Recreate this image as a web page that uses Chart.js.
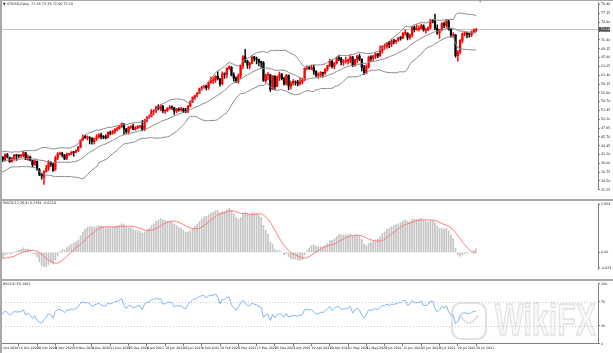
<!DOCTYPE html>
<html>
<head>
<meta charset="utf-8">
<script src="https://cdn.jsdelivr.net/npm/chart.js@4.4.0/dist/chart.umd.min.js"></script>
<style>
  html, body { margin: 0; padding: 0; background: #fff; }
  #wrap { position: relative; width: 613px; height: 353px; background: #fff; overflow: hidden; }
  canvas { position: absolute; left: 0; }
  .line { position: absolute; background: #a8a8a8; }
</style>
</head>
<body>
<div id="wrap">
  <canvas id="main" width="613" height="199" style="top:0;width:613px;height:199px"></canvas>
  <canvas id="macd" width="613" height="78" style="top:201px;width:613px;height:78px"></canvas>
  <canvas id="rsi" width="613" height="72" style="top:281px;width:613px;height:72px"></canvas>
  <div class="line" style="left:0;top:0;width:613px;height:1px"></div>
  <div class="line" style="left:0;top:0;width:2px;height:353px"></div>
  <div class="line" style="left:0;top:199px;width:613px;height:2px"></div>
  <div class="line" style="left:0;top:279px;width:613px;height:2px"></div>
</div>
<script>
// closes before the first visible bar, only used to warm up the indicators
const warmupClose = [
  41.60, 41.04, 41.27, 39.92, 40.27, 41.01, 41.70, 42.19, 41.95, 41.22,
  41.94, 41.61, 42.67, 42.24, 42.01, 42.89, 42.89, 42.93, 42.82, 42.34,
  42.62, 43.35, 43.39, 43.04, 42.97, 42.61, 42.76, 41.51, 41.37, 39.77,
  39.30, 36.76, 38.05, 37.30, 37.33, 37.26, 38.28, 40.16, 40.97, 41.11,
  39.31, 39.80, 39.93, 40.31, 40.25, 40.60, 39.29, 40.22, 38.72, 37.05, 39.22
];

// daily bars, 6 Oct 2020 .. 30 Jul 2021
const open = [
  39.25,40.60,39.90,41.20,40.40,39.45,40.25,41.00,40.95,40.85,41.00,41.65,40.00,40.60,39.70,38.55,39.50,37.40,36.20,
  35.40,36.85,37.70,39.10,38.75,37.40,40.30,41.40,41.45,41.10,40.20,41.30,41.45,41.80,41.75,42.20,43.10,44.90,45.70,45.50,45.50,
  45.30,44.50,45.30,45.65,46.25,45.75,45.60,45.55,46.80,46.60,47.00,47.60,47.85,48.35,49.00,47.70,47.00,48.10,48.30,47.65,48.00,48.40,
  48.45,47.60,49.90,50.60,50.85,52.20,52.25,53.20,52.90,53.55,52.30,52.40,52.95,53.30,53.10,52.25,52.75,52.60,52.85,52.30,
  52.20,53.55,54.75,55.70,56.25,56.85,58.00,58.35,58.70,58.25,59.50,60.05,60.05,61.15,60.50,59.25,61.70,61.65,63.20,63.50,
  61.50,60.60,59.75,61.25,63.80,66.10,65.00,64.00,64.45,66.00,65.60,65.40,64.80,64.55,60.00,61.40,61.50,57.80,61.15,58.55,60.95,61.55,60.50,
  59.15,61.40,58.65,59.35,59.75,59.60,59.30,59.70,60.20,63.15,63.45,63.10,63.40,62.45,61.35,61.40,62.15,61.90,62.95,63.85,65.00,
  63.55,64.50,65.70,65.60,64.70,64.90,64.90,65.30,66.05,63.85,65.35,66.25,65.45,63.35,62.05,63.55,66.05,65.75,66.20,66.85,
  66.40,67.70,68.80,68.80,69.60,69.25,70.05,69.95,70.30,70.90,70.85,72.10,72.10,71.05,71.60,73.65,73.05,73.10,73.30,74.00,72.90,72.95,
  73.45,75.20,75.20,73.35,72.20,72.95,74.55,74.10,75.20,73.10,71.60,71.70,66.40,67.40,70.25,71.90,72.05,71.90,71.65,72.40,72.85
];
const high = [
  40.95,40.70,41.39,41.50,40.55,40.48,41.26,41.20,41.15,41.25,41.95,41.85,41.15,40.80,39.80,39.90,39.60,37.70,36.40,
  37.10,38.45,39.70,39.40,38.95,40.80,41.70,41.85,41.75,41.20,41.60,41.55,42.00,41.90,42.40,43.30,45.00,46.25,46.10,46.00,45.80,
  45.55,45.40,46.25,46.55,46.70,46.05,46.25,47.00,47.20,47.40,47.80,48.20,48.60,49.30,49.10,47.90,48.40,48.60,48.95,48.35,48.60,48.60,
  49.85,50.20,50.90,51.30,52.75,52.60,53.55,53.90,53.95,53.65,52.60,53.20,53.70,53.60,53.20,53.00,53.10,53.30,53.05,52.95,
  53.75,54.90,55.90,56.35,57.00,58.15,58.60,58.90,58.85,59.80,60.95,60.95,61.30,62.25,60.55,62.25,62.00,63.30,63.80,63.60,
  62.00,61.00,61.75,64.00,66.40,67.98,65.25,64.70,66.40,66.20,66.00,65.50,65.00,64.85,61.70,62.10,61.65,61.30,61.30,61.20,62.20,61.90,60.90,
  61.55,61.50,59.90,60.30,60.00,60.10,60.75,60.65,63.30,63.80,63.75,64.00,63.95,62.50,62.00,62.30,62.20,63.10,63.90,65.45,65.10,
  64.65,66.10,66.50,65.95,65.40,66.00,65.60,66.40,66.20,65.45,66.50,66.80,65.55,63.90,64.05,66.30,66.40,66.45,67.10,67.00,
  68.90,68.85,69.40,69.75,70.00,70.50,70.60,70.40,71.05,71.25,72.25,72.95,72.20,71.90,73.80,73.95,74.20,73.95,74.45,74.20,73.40,73.70,
  75.70,75.65,76.98,74.20,73.10,74.80,74.90,75.52,75.35,73.35,72.20,71.80,67.70,70.50,72.20,72.45,72.25,72.10,72.70,73.20,73.35
];
const low = [
  39.10,39.40,39.60,40.35,39.23,39.30,39.70,39.75,40.35,40.50,40.60,39.90,39.70,39.60,38.15,38.50,37.20,35.85,34.92,
  33.64,36.70,37.20,38.20,36.90,37.20,39.90,41.10,40.60,39.90,39.90,40.90,41.20,40.80,41.60,42.00,42.90,44.80,45.30,44.95,43.90,
  43.85,43.95,44.80,45.40,45.20,45.25,45.15,45.40,46.20,46.40,46.60,47.20,47.70,48.10,46.20,46.65,46.40,47.80,47.50,47.45,47.80,47.95,
  47.20,47.30,49.50,50.40,50.80,51.30,51.90,52.55,52.30,51.85,51.70,52.20,52.70,52.70,51.45,51.80,52.25,52.25,51.90,51.90,
  51.90,53.40,54.45,55.20,55.90,56.70,57.55,58.05,57.65,57.80,59.40,59.25,59.60,60.20,58.60,58.95,60.60,60.70,62.90,61.25,
  59.90,59.50,59.30,60.60,63.10,64.60,63.15,63.00,64.30,65.00,64.25,63.75,63.40,59.80,59.60,60.30,57.30,57.70,57.65,58.50,60.00,60.20,58.90,
  58.95,57.65,57.85,58.85,58.85,58.70,58.90,59.20,60.00,62.80,62.90,62.80,61.60,60.90,60.60,60.90,60.90,61.60,62.50,63.60,63.20,
  63.05,64.20,65.10,64.05,63.90,64.45,64.20,64.60,63.60,63.70,64.50,65.10,62.50,61.56,61.80,63.20,65.00,65.15,65.60,65.90,
  66.20,67.10,68.00,68.20,68.40,68.70,69.40,69.50,70.10,70.30,70.70,71.60,70.40,70.50,71.10,72.40,72.80,72.60,73.10,72.60,72.10,72.70,
  73.20,74.70,73.00,71.80,70.80,72.70,73.50,73.60,72.90,71.20,71.10,65.97,65.01,66.80,69.60,71.40,70.90,71.10,71.20,72.10,72.40
];
const close = [
  40.67,39.95,41.19,40.60,39.43,40.20,41.04,40.96,40.88,41.06,41.70,40.03,40.64,39.85,38.56,39.57,37.39,36.17,35.79,
  36.81,37.66,39.15,38.79,37.14,40.29,41.36,41.45,41.12,40.13,41.34,41.43,41.82,41.74,42.15,43.06,44.91,45.71,45.50,45.53,45.34,
  44.55,45.28,45.64,46.26,45.76,45.60,45.52,46.78,46.57,46.99,47.62,47.82,48.36,49.10,47.74,47.02,48.12,48.23,47.62,48.00,48.40,48.52,
  47.62,49.93,50.63,50.83,52.24,52.25,53.21,52.91,53.57,52.36,52.40,52.98,53.31,53.13,52.27,52.77,52.61,52.85,52.34,52.20,
  53.55,54.76,55.69,56.23,56.85,57.97,58.36,58.68,58.24,59.47,60.00,60.05,61.14,60.52,59.24,61.70,61.67,63.22,63.53,61.50,
  60.64,59.75,61.28,63.83,66.09,65.05,64.01,64.44,66.02,65.61,65.39,64.80,64.60,60.00,61.42,61.55,57.76,61.18,58.56,60.97,61.56,60.55,59.16,
  61.45,58.65,59.33,59.77,59.60,59.32,59.70,60.18,63.15,63.46,63.13,63.38,62.44,61.35,61.43,62.14,61.91,62.94,63.86,65.01,63.58,
  64.49,65.69,65.63,64.71,64.90,64.92,65.28,66.08,63.82,65.37,66.27,65.49,63.36,62.05,63.58,66.05,65.76,66.21,66.85,66.32,
  67.72,68.83,68.81,69.62,69.23,70.05,69.96,70.29,70.91,70.88,72.12,72.15,71.04,71.64,73.66,73.06,73.08,73.30,74.05,72.91,72.98,73.47,
  75.23,75.16,73.37,72.20,72.94,74.56,74.10,75.25,73.13,71.65,71.81,66.42,67.42,70.30,71.91,72.07,71.91,71.65,72.39,72.85,73.10
];

// one date label every 8 bars
const dateLabels = [
  '6 Oct 2020', '16 Oct 2020', '28 Oct 2020', '9 Nov 2020', '19 Nov 2020', '1 Dec 2020', '11 Dec 2020',
  '23 Dec 2020', '6 Jan 2021', '18 Jan 2021', '28 Jan 2021', '9 Feb 2021', '19 Feb 2021', '3 Mar 2021',
  '15 Mar 2021', '25 Mar 2021', '7 Apr 2021', '19 Apr 2021', '29 Apr 2021', '11 May 2021', '21 May 2021',
  '3 Jun 2021', '15 Jun 2021', '25 Jun 2021', '8 Jul 2021', '20 Jul 2021', '30 Jul 2021'
];
const priceTicks = [79.40, 77.15, 74.90, 72.65, 70.40, 68.15, 65.90, 63.65, 61.40, 59.15, 56.90,
  54.70, 52.45, 50.20, 47.95, 45.70, 43.45, 41.20, 39.00, 36.75, 34.50, 32.25];
const macdTicks = [2.864, 0, -0.93];
const macdTickLabels = ['2.864', '0.00', '-0.931'];
const rsiTicks = [100, 70, 30, 0];
const rsiLevels = [70, 30];

const RED = '#ff0000', BLACK = '#000000', AXIS = '#808080', TXT = '#222';
const FONT = 'DejaVu Sans';
const X_MIN = 0.66, X_MAX = 261.3;
Chart.defaults.font.family = FONT;

// --- indicators from the closes: Bands(20,2), MACD(12,26,9), RSI(14) ---
const allClose = warmupClose.concat(close);
const W = warmupClose.length;

const bbMid = [], bbUp = [], bbLo = [];
close.forEach((_, i) => {
  const win = allClose.slice(i + W - 19, i + W + 1);
  const m = win.reduce((a, b) => a + b, 0) / 20;
  const sd = Math.sqrt(win.reduce((a, b) => a + (b - m) * (b - m), 0) / 20);
  bbMid.push(m); bbUp.push(m + 2 * sd); bbLo.push(m - 2 * sd);
});

function ema(src, n) {
  const k = 2 / (n + 1);
  let e = src[0];
  return src.map((v, i) => (e = i ? e + k * (v - e) : v));
}
const e12 = ema(allClose, 12), e26 = ema(allClose, 26);
const macdAll = allClose.map((_, i) => e12[i] - e26[i]);
const sigAll = macdAll.map((_, i) => i < 8 ? null : macdAll.slice(i - 8, i + 1).reduce((a, b) => a + b, 0) / 9);
const macd = macdAll.slice(W), signal = sigAll.slice(W);

const rsiAll = [null];
let ag = 0, al = 0;
for (let i = 1; i < allClose.length; i++) {
  const d = allClose[i] - allClose[i - 1];
  const g = Math.max(d, 0), l = Math.max(-d, 0);
  if (i <= 14) { ag += g / 14; al += l / 14; }
  else { ag = (ag * 13 + g) / 14; al = (al * 13 + l) / 14; }
  rsiAll.push(i < 14 ? null : (al === 0 ? 100 : 100 - 100 / (1 + ag / al)));
}
const rsi = rsiAll.slice(W);

const pts = arr => arr.map((v, i) => ({ x: i, y: v }));
const candleColor = close.map((c, i) => c >= open[i] ? RED : BLACK);
const last = close.length - 1;

// shared axis pieces
function xAxis(show) {
  return {
    type: 'linear', min: X_MIN, max: X_MAX, display: show, offset: false,
    grid: { display: true, drawOnChartArea: false, drawTicks: true, tickLength: 2, color: AXIS },
    border: { display: true, color: AXIS },
    afterBuildTicks: s => { s.ticks = dateLabels.map((_, k) => ({ value: 8 * k })); },
    afterFit: s => { s.height = 9; },
    ticks: {
      autoSkip: false, maxRotation: 0, align: 'start', padding: 0.5,
      font: { size: 3.2 }, color: TXT,
      callback: v => dateLabels[Math.round(v / 8)]
    }
  };
}
function yAxis(min, max, values, labelFor) {
  return {
    type: 'linear', position: 'right', min: min, max: max,
    grid: { display: true, drawOnChartArea: false, drawTicks: true, tickLength: 2, color: AXIS },
    border: { display: true, color: AXIS },
    afterBuildTicks: s => { s.ticks = values.map(v => ({ value: v })); },
    afterFit: s => { s.width = 15; },
    ticks: { autoSkip: false, padding: 1, font: { size: 3.3 }, color: TXT, callback: labelFor }
  };
}
const baseOptions = {
  responsive: false, animation: false, devicePixelRatio: 1, events: [],
  plugins: { legend: { display: false }, tooltip: { enabled: false } }
};

function label(ctx, text, x, y) {
  ctx.save();
  ctx.font = '3.4px "' + FONT + '"';
  ctx.fillStyle = TXT;
  ctx.textBaseline = 'middle';
  ctx.fillText(text, x, y);
  ctx.restore();
}

// --- main price panel ---
new Chart(document.getElementById('main'), {
  type: 'bar',
  data: {
    datasets: [
      { type: 'line', data: pts(bbUp), borderColor: '#8a8a8a', borderWidth: 1, pointRadius: 0, order: 0 },
      { type: 'line', data: pts(bbMid), borderColor: '#8a8a8a', borderWidth: 1, pointRadius: 0, order: 0 },
      { type: 'line', data: pts(bbLo), borderColor: '#8a8a8a', borderWidth: 1, pointRadius: 0, order: 0 },
      { data: close.map((c, i) => ({ x: i, y: [open[i], c] })), backgroundColor: candleColor,
        barThickness: 1.6, grouped: false, minBarLength: 0.8, order: 1 },
      { data: close.map((_, i) => ({ x: i, y: [low[i], high[i]] })), backgroundColor: candleColor,
        barThickness: 0.8, grouped: false, order: 2 }
    ]
  },
  options: Object.assign({}, baseOptions, {
    layout: { padding: { left: 2, top: 1, right: 0, bottom: 0.3 } },
    scales: {
      x: xAxis(false),
      y: yAxis(32.27, 79.79, priceTicks, v => v.toFixed(2))
    }
  }),
  plugins: [{
    id: 'priceLine',
    beforeDatasetsDraw(chart) {
      const { ctx, chartArea: a } = chart;
      const y = Math.round(chart.scales.y.getPixelForValue(close[last])) + 0.5;
      ctx.save();
      ctx.strokeStyle = '#c4c4c4'; ctx.lineWidth = 1;
      ctx.beginPath(); ctx.moveTo(a.left, y); ctx.lineTo(a.right, y); ctx.stroke();
      ctx.restore();
    },
    afterDraw(chart) {
      const { ctx, chartArea: a } = chart;
      const y = chart.scales.y.getPixelForValue(close[last]);
      ctx.save();
      ctx.fillStyle = '#505050';
      ctx.fillRect(a.right + 1, y - 2.3, 11, 4.6);
      ctx.font = '3.3px "' + FONT + '"';
      ctx.fillStyle = '#fff'; ctx.textBaseline = 'middle';
      ctx.fillText(close[last].toFixed(2), a.right + 2.5, y);
      // chart shift marker
      ctx.fillStyle = '#909090';
      ctx.beginPath(); ctx.moveTo(478.5, 0.5); ctx.lineTo(482, 0.5); ctx.lineTo(480.2, 2.6); ctx.fill();
      ctx.restore();
      label(ctx, '\u25BC XTIUSD,Daily  ' + [open[last], high[last], low[last], close[last]].map(v => v.toFixed(2)).join(' '), 3, 4);
    }
  }]
});

// --- MACD panel ---
new Chart(document.getElementById('macd'), {
  type: 'bar',
  data: {
    datasets: [
      { type: 'line', data: pts(signal), borderColor: '#ff7a7a', borderWidth: 1, pointRadius: 0, order: 0 },
      { data: pts(macd), backgroundColor: '#c4c4c4', barThickness: 1, grouped: false, order: 1 }
    ]
  },
  options: Object.assign({}, baseOptions, {
    layout: { padding: { left: 2, top: 0, right: 0, bottom: 0.5 } },
    scales: {
      x: xAxis(false),
      y: yAxis(-1.02, 2.90, macdTicks, (v, i) => macdTickLabels[i])
    }
  }),
  plugins: [{
    id: 'macdTitle',
    afterDraw(chart) {
      label(chart.ctx, 'MACD(12,26,9) ' + macd[last].toFixed(4) + ' ' + signal[last].toFixed(4), 3, 2.6);
    }
  }]
});

// --- RSI panel ---
new Chart(document.getElementById('rsi'), {
  type: 'line',
  data: {
    datasets: [
      { data: pts(rsi), borderColor: '#7fb5fa', borderWidth: 1, pointRadius: 0 }
    ]
  },
  options: Object.assign({}, baseOptions, {
    layout: { padding: { left: 2, top: 0.7, right: 0, bottom: 0 } },
    scales: {
      x: xAxis(true),
      y: yAxis(0, 100, rsiTicks, v => String(v))
    }
  }),
  plugins: [{
    id: 'rsiExtras',
    beforeDatasetsDraw(chart) {
      const { ctx, chartArea: a } = chart;
      ctx.save();
      ctx.strokeStyle = '#c8c8c8'; ctx.lineWidth = 1; ctx.setLineDash([1, 2]);
      rsiLevels.forEach(lv => {
        const y = Math.round(chart.scales.y.getPixelForValue(lv)) + 0.5;
        ctx.beginPath(); ctx.moveTo(a.left, y); ctx.lineTo(a.right, y); ctx.stroke();
      });
      ctx.restore();
    },
    afterDraw(chart) {
      const ctx = chart.ctx;
      label(ctx, 'RSI(14) ' + rsi[last].toFixed(4), 3, 2.8);
      // watermark
      ctx.save();
      ctx.strokeStyle = 'rgba(190,190,190,0.45)';
      ctx.fillStyle = 'rgba(235,235,235,0.35)';
      ctx.lineWidth = 2.2;
      ctx.beginPath();
      ctx.roundRect(452, 22, 34, 36, 9);
      ctx.stroke();
      ctx.beginPath();
      ctx.moveTo(460, 34); ctx.quadraticCurveTo(469, 50, 478, 34);
      ctx.stroke();
      ctx.translate(495, 54);
      ctx.scale(0.69, 1);
      ctx.font = 'bold 44px "Liberation Sans"';
      ctx.lineWidth = 1.4;
      ctx.fillText('WikiFX', 0, 0);
      ctx.strokeText('WikiFX', 0, 0);
      ctx.restore();
    }
  }]
});
</script>
</body>
</html>
